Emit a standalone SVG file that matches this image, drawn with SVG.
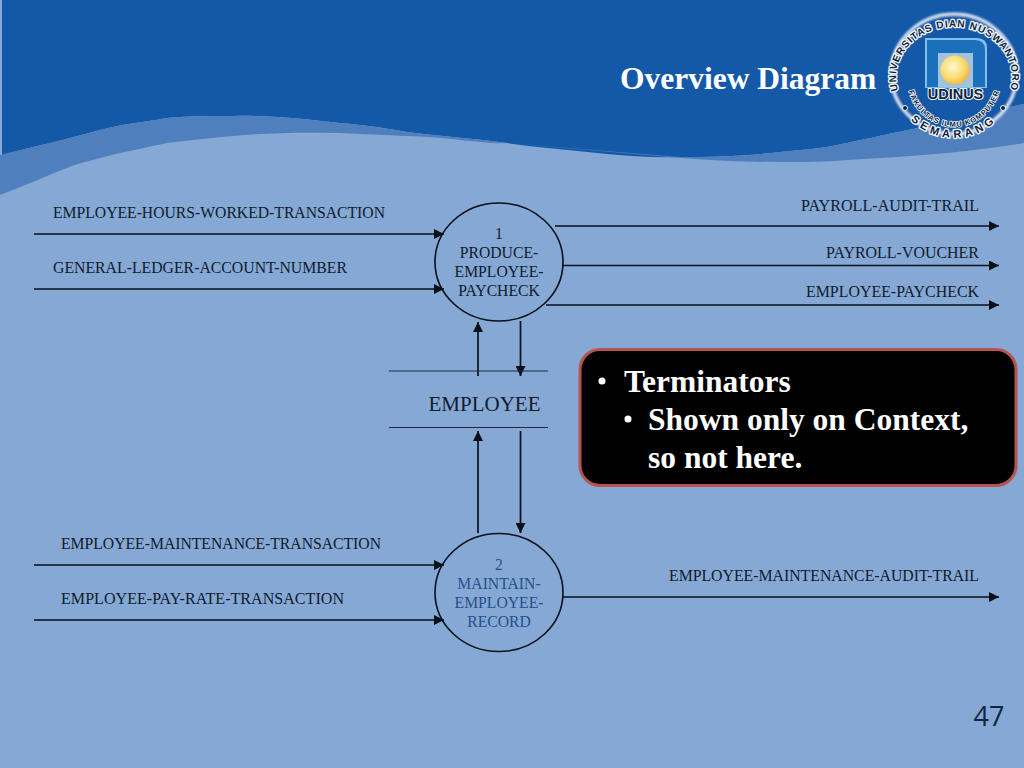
<svg xmlns="http://www.w3.org/2000/svg" width="1024" height="768" viewBox="0 0 1024 768">
<style>
.l{font-family:"Liberation Serif","Times New Roman",serif;font-size:15.7px;fill:#101c2c}
.m{text-anchor:middle}
.e{text-anchor:end}
.c{stroke:#0a0f18;stroke-width:1.7;fill:none;marker-end:url(#a)}
.n{fill:none;stroke:#0a0f18;stroke-width:1.6}
.b{font-family:"Liberation Serif","Times New Roman",serif;font-weight:bold;font-size:31.5px;fill:#fff}
.r{font-family:"Liberation Sans",Arial,sans-serif;font-weight:bold;fill:#0f1f3a;stroke:#f4f8fc;stroke-width:2.6px;paint-order:stroke;stroke-linejoin:round}
</style>
<defs>
<marker id="a" markerUnits="userSpaceOnUse" markerWidth="10" markerHeight="10" refX="10" refY="5" orient="auto"><path d="M0 0L10 5L0 10Z" fill="#0a0f18"/></marker>
<radialGradient id="s" cx="0.42" cy="0.4" r="0.65"><stop offset="0" stop-color="#fff8d0"/><stop offset="0.6" stop-color="#fbdc70"/><stop offset="1" stop-color="#eeb040"/></radialGradient>
<filter id="g" x="-10%" y="-10%" width="120%" height="120%"><feGaussianBlur stdDeviation="1"/></filter>
<path id="t1" d="M902 99A58 50 0 1 1 1006 99"/>
<path id="t2" d="M908 88A47 49 0 0 0 1000 88"/>
<path id="t3" d="M898 100A60 59 0 0 0 1010 100"/>
</defs>
<rect width="1024" height="768" fill="#85a8d5"/>
<g id="background">
<path d="M2 0H1024V104C985 112 930 126 893 133C875 137 860 140 847 143C820 149 800 150 780 152C745 156 710 157 680 157C655 158 630 156 607 154C575 150 540 148 507 143C470 138 440 136 407 132C385 128 365 125 340 123C300 118 265 115 233 116C210 116 190 116 167 118C145 122 122 124 100 130C65 140 35 146 2 155Z" fill="#1458a8"/>
<path d="M0 155C35 146 65 140 100 130C122 124 145 122 167 118C190 116 210 116 233 116C265 115 300 118 340 123C365 125 385 128 407 132C440 136 470 138 507 143L680 158C720 161 750 162 780 162C805 162 825 162 847 160C880 158 915 156 947 153C975 150 1000 147 1024 143V104C985 112 930 126 893 133C875 137 860 140 847 143C820 149 800 150 780 152C745 156 710 157 680 157L507 143C490 145 450 137 407 136C385 135 365 134 340 133C300 132 265 133 233 136C210 138 190 140 167 143C145 148 122 152 100 158C85 162 76 164 67 168C55 172 45 177 33 182C20 187 10 191 0 195Z" fill="#4f80bd"/>
</g>
<g id="title"><text x="620" y="89" class="b">Overview Diagram</text></g>
<g id="logo">
<ellipse cx="954" cy="74" rx="63" ry="60" fill="#1458a8" stroke="#dce8f5" stroke-width="3" filter="url(#g)"/>
<path d="M925 38H977Q987 38 987 48V88H925Z" fill="#7fc0ee"/>
<path d="M927 40H975Q985 40 985 50V87H973V53H938V87H927Z" fill="#1a70bb"/>
<rect x="938" y="53" width="35" height="34" fill="#a3c3dc"/>
<circle cx="955" cy="70" r="14.500" fill="url(#s)"/>
<text x="955.500" y="99" class="r m" font-size="14.500" style="stroke-width:2px">UDINUS</text>
<text class="r" font-size="10" letter-spacing="1"><textPath href="#t1" startOffset="50%" text-anchor="middle">UNIVERSITAS DIAN NUSWANTORO</textPath></text>
<text class="r" font-size="7.500" letter-spacing="0.900" style="stroke-width:1.6px"><textPath href="#t2" startOffset="50%" text-anchor="middle">FAKULTAS ILMU KOMPUTER</textPath></text>
<text class="r" font-size="11" letter-spacing="4"><textPath href="#t3" startOffset="50%" text-anchor="middle">SEMARANG</textPath></text>
<circle cx="905" cy="108" r="2.500" fill="#0f1f3a" stroke="#f4f8fc"/><circle cx="1003" cy="108" r="2.500" fill="#0f1f3a" stroke="#f4f8fc"/>
</g>
<g id="connectors">
<path class="c" d="M34 234H444"/>
<path class="c" d="M34 289H444"/>
<path class="c" d="M34 565H444"/>
<path class="c" d="M34 620H444"/>
<path class="c" d="M555 226H999"/>
<path class="c" d="M563 265.500H999"/>
<path class="c" d="M546 305H999"/>
<path class="c" d="M563 597H999"/>
<path class="c" d="M478 376V322"/>
<path class="c" d="M520.500 321V376"/>
<path class="c" d="M478 533V431"/>
<path class="c" d="M520.500 431V533"/>
</g>
<g id="flow-labels" class="l">
<text x="53" y="218" textLength="332" lengthAdjust="spacingAndGlyphs">EMPLOYEE-HOURS-WORKED-TRANSACTION</text>
<text x="53" y="273" textLength="294" lengthAdjust="spacingAndGlyphs">GENERAL-LEDGER-ACCOUNT-NUMBER</text>
<text x="61" y="549" textLength="320" lengthAdjust="spacingAndGlyphs">EMPLOYEE-MAINTENANCE-TRANSACTION</text>
<text x="61" y="604" textLength="283" lengthAdjust="spacingAndGlyphs">EMPLOYEE-PAY-RATE-TRANSACTION</text>
<text x="801" y="210.500" textLength="178" lengthAdjust="spacingAndGlyphs">PAYROLL-AUDIT-TRAIL</text>
<text x="826" y="258" textLength="153" lengthAdjust="spacingAndGlyphs">PAYROLL-VOUCHER</text>
<text x="806" y="297" textLength="173" lengthAdjust="spacingAndGlyphs">EMPLOYEE-PAYCHECK</text>
<text x="669" y="580.500" textLength="310" lengthAdjust="spacingAndGlyphs">EMPLOYEE-MAINTENANCE-AUDIT-TRAIL</text>
</g>
<g id="process-1">
<ellipse class="n" cx="499" cy="262" rx="64" ry="59"/>
<g class="l m"><text x="499" y="239">1</text><text x="499" y="258">PRODUCE-</text><text x="499" y="277">EMPLOYEE-</text><text x="499" y="296">PAYCHECK</text></g>
</g>
<g id="employee-store">
<path d="M389 371H548M389 427.500H548" stroke="#1c2a3c" stroke-width="1" fill="none"/>
<text x="484.500" y="411" class="l m" style="font-size:21px">EMPLOYEE</text>
</g>
<g id="process-2">
<ellipse class="n" cx="499" cy="592.500" rx="64" ry="59"/>
<g class="l m" style="fill:#26508c"><text x="499" y="570">2</text><text x="499" y="589">MAINTAIN-</text><text x="499" y="608">EMPLOYEE-</text><text x="499" y="627">RECORD</text></g>
</g>
<g id="callout">
<rect x="580" y="349.500" width="436" height="136" rx="20" fill="#000" stroke="#b85450" stroke-width="3"/>
<circle cx="602" cy="381" r="3.500" fill="#fff"/>
<circle cx="628" cy="419" r="3.500" fill="#fff"/>
<text x="624" y="391.500" class="b">Terminators</text>
<text x="648" y="429.500" class="b">Shown only on Context,</text>
<text x="648" y="467.500" class="b">so not here.</text>
</g>
<g id="page-number"><text x="989" y="726" text-anchor="middle" font-family="'Open Sans','Noto Sans',sans-serif" font-size="27" fill="#12233f">47</text></g>
</svg>
